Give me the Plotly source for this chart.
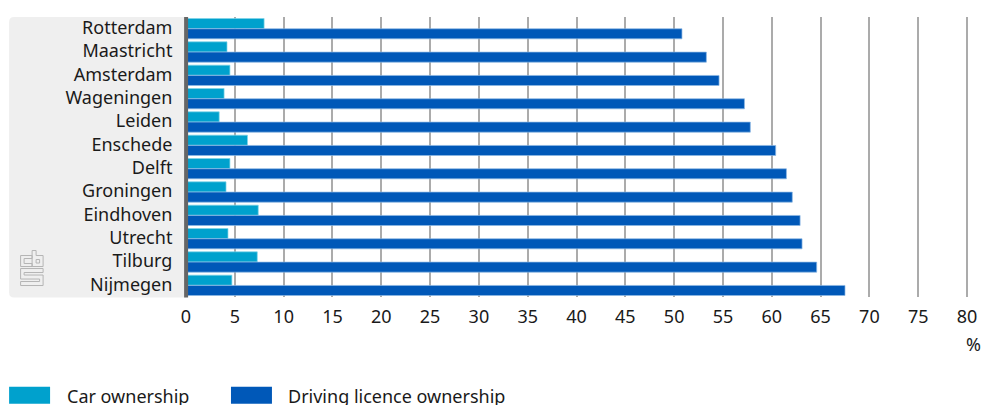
import plotly.graph_objects as go

cities = ["Rotterdam","Maastricht","Amsterdam","Wageningen","Leiden","Enschede","Delft","Groningen","Eindhoven","Utrecht","Tilburg","Nijmegen"]
car = [8.0,4.2,4.5,3.9,3.4,6.3,4.5,4.1,7.4,4.3,7.3,4.7]
licence = [50.8,53.3,54.6,57.2,57.8,60.4,61.5,62.1,62.9,63.1,64.6,67.5]
ticks = list(range(0,85,5))
FONT = "Noto Sans"
W, H = 982, 405
XMAX = 80.2
UNIT = (967.5 - 186) / 80
PL, PR, PT, PB = 186, 186 + XMAX * UNIT, 16.5, 297   # plot area in window pixels
L, R, T, B = PL, W - PR, PT, H - PB

def px(x): return (x - PL) / (PR - PL)
def py(y): return (PB - y) / (PB - PT)

fig = go.Figure()
fig.add_bar(y=cities, x=car, name="Car ownership", orientation="h",
            marker=dict(color="#00A1CD", line=dict(color="#80D4E8", width=0.7)), showlegend=False)
fig.add_bar(y=cities, x=licence, name="Driving licence ownership", orientation="h",
            marker=dict(color="#0058B8", line=dict(color="#8DB8E4", width=0.7)), showlegend=False)

def pixel_path(p, **kw):
    return dict(type="path", xref="paper", yref="paper", xsizemode="pixel", ysizemode="pixel",
                xanchor=px(0), yanchor=py(0), path=p, **kw)

shapes = []
shapes.append(pixel_path("M 14 -16.5 H 186 V -297 H 14 Q 9 -297 9 -292 V -21.5 Q 9 -16.5 14 -16.5 Z",
                         layer="below", fillcolor="#EFEFEF", line=dict(width=0)))
shapes.append(pixel_path("M 184 -16.5 H 188 V -297 H 184 Z", layer="above",
                         fillcolor="#666666", line=dict(width=0)))
logo_paths = [
    "M 32 -255 H 20.5 V -266 H 32 V -263 H 24 V -258 H 32 Z",
    "M 32 -250 H 36 V -255 H 43 V -266 H 32 Z M 36 -259 H 39.5 V -262.5 H 36 Z",
    "M 20.5 -268 H 43 V -272 H 24 V -274.5 H 43 V -285 H 20.5 V -281 H 39.5 V -278.5 H 20.5 Z",
]
for p in logo_paths:
    shapes.append(pixel_path(p, layer="above", line=dict(color="#B4B4B4", width=1)))
shapes.append(dict(type="rect", xref="paper", yref="paper", x0=px(9), x1=px(50), y0=py(404), y1=py(387),
                   fillcolor="#00A1CD", line=dict(width=0)))
shapes.append(dict(type="rect", xref="paper", yref="paper", x0=px(231), x1=px(272), y0=py(404), y1=py(387),
                   fillcolor="#0058B8", line=dict(width=0)))

annots = [
    dict(text="Car ownership", xref="paper", yref="paper", x=px(65), y=py(396), xanchor="left", yanchor="middle", showarrow=False),
    dict(text="Driving licence ownership", xref="paper", yref="paper", x=px(286), y=py(396), xanchor="left", yanchor="middle", showarrow=False),
    dict(text="%", xref="paper", yref="paper", x=px(983), y=py(344), xanchor="right", yanchor="middle", showarrow=False),
]

fig.update_layout(
    width=W, height=H, autosize=False,
    margin=dict(l=L, r=R, t=T, b=B, pad=0),
    paper_bgcolor="white", plot_bgcolor="white",
    barmode="group", bargap=0.12, bargroupgap=0.02,
    font=dict(family=FONT, size=18, color="#1A1A1A"),
    shapes=shapes, annotations=annots,
    xaxis=dict(range=[0,XMAX], tickmode="array", tickvals=ticks, ticktext=[str(t) for t in ticks],
               showgrid=True, gridcolor="#ABABAB", gridwidth=1.5, zeroline=False, showline=False,
               ticks="outside", ticklen=3, tickcolor="rgba(0,0,0,0)", automargin=False),
    yaxis=dict(autorange=False, range=[11.5,-0.5], type="category", categoryorder="array", categoryarray=cities,
               showgrid=False, zeroline=False, showline=False, ticks="outside", ticklen=9, ticklabelshift=1,
               tickcolor="rgba(0,0,0,0)", automargin=False),
)
fig.write_html("out.html", config=dict(displayModeBar=False),
               post_script="document.body.style.margin='0';document.documentElement.style.overflow='hidden';")
